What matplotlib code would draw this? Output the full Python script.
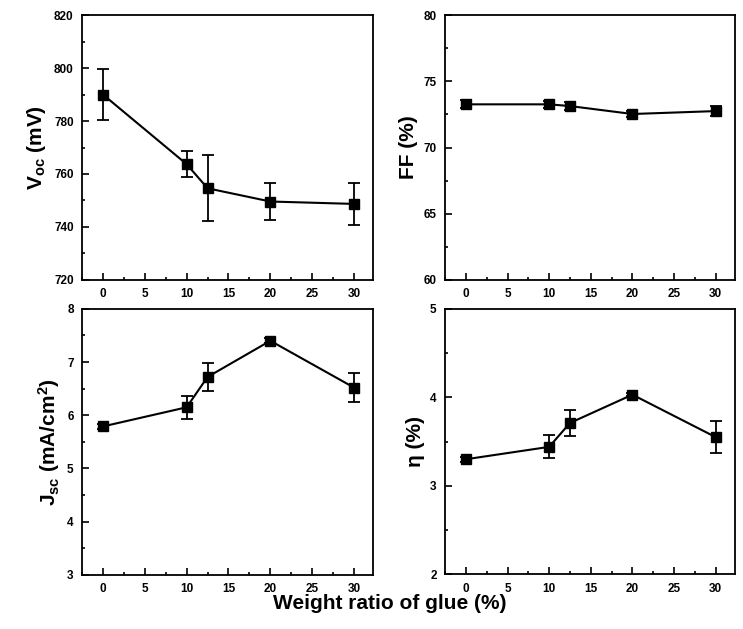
import numpy as np
import matplotlib.pyplot as plt
from matplotlib.ticker import MultipleLocator

plt.rcParams['font.family'] = ['Liberation Sans', 'DejaVu Sans']
plt.rcParams['mathtext.fontset'] = 'custom'
plt.rcParams['mathtext.rm'] = 'Liberation Sans:bold'
plt.rcParams['mathtext.bf'] = 'Liberation Sans:bold'
plt.rcParams['mathtext.default'] = 'rm'

# weight ratio of glue (%)
ratio = [0, 10, 12.5, 20, 30]

voc = [790.0, 763.7, 754.6, 749.6, 748.7]
voc_err = [9.8, 5.0, 12.4, 7.0, 8.0]

ff = [73.26, 73.26, 73.13, 72.53, 72.75]
ff_err = [0.3, 0.25, 0.3, 0.2, 0.4]

jsc = [5.79, 6.15, 6.72, 7.40, 6.52]
jsc_err = [0.05, 0.22, 0.27, 0.05, 0.27]

eta = [3.30, 3.44, 3.71, 4.03, 3.55]
eta_err = [0.03, 0.13, 0.15, 0.02, 0.18]

fig = plt.figure(figsize=(7.43, 6.29), dpi=100)

# [left, bottom, width, height] in figure fraction
boxes = [
    [0.1104, 0.555, 0.392, 0.421],
    [0.599, 0.555, 0.390, 0.421],
    [0.1104, 0.086, 0.392, 0.423],
    [0.599, 0.087, 0.390, 0.422],
]
series = [
    (voc, voc_err, (720, 820), 20, 10, r'V$_{oc}$ (mV)'),
    (ff, ff_err, (60, 80), 5, 2.5, 'FF (%)'),
    (jsc, jsc_err, (3, 8), 1, 0.5, r'J$_{sc}$ (mA/cm$^{2}$)'),
    (eta, eta_err, (2, 5), 1, 0.5, 'η (%)'),
]

for box, (y, yerr, ylim, major, minor, label) in zip(boxes, series):
    ax = fig.add_axes(box)
    ax.errorbar(ratio, y, yerr=yerr, color='black', lw=1.5, marker='s',
                ms=7, capsize=4.5, elinewidth=1.3, capthick=1.3)
    ax.set_xlim(-2.5, 32.3)
    ax.set_ylim(*ylim)
    ax.xaxis.set_major_locator(MultipleLocator(5))
    ax.xaxis.set_minor_locator(MultipleLocator(2.5))
    ax.yaxis.set_major_locator(MultipleLocator(major))
    ax.yaxis.set_minor_locator(MultipleLocator(minor))
    ax.tick_params(which='both', direction='in', top=False, right=False,
                   labelsize=8.5, width=1.2, pad=6)
    ax.tick_params(which='major', length=5)
    ax.tick_params(which='minor', length=2.5)
    for t in ax.get_xticklabels() + ax.get_yticklabels():
        t.set_fontweight('bold')
    for s in ax.spines.values():
        s.set_linewidth(1.3)
    ax.set_ylabel(label, fontsize=15, fontweight='bold', labelpad=4)

fig.text(0.525, 0.04, 'Weight ratio of glue (%)', ha='center', va='center',
         fontsize=15, fontweight='bold')

fig.savefig('out.png', dpi=100)
